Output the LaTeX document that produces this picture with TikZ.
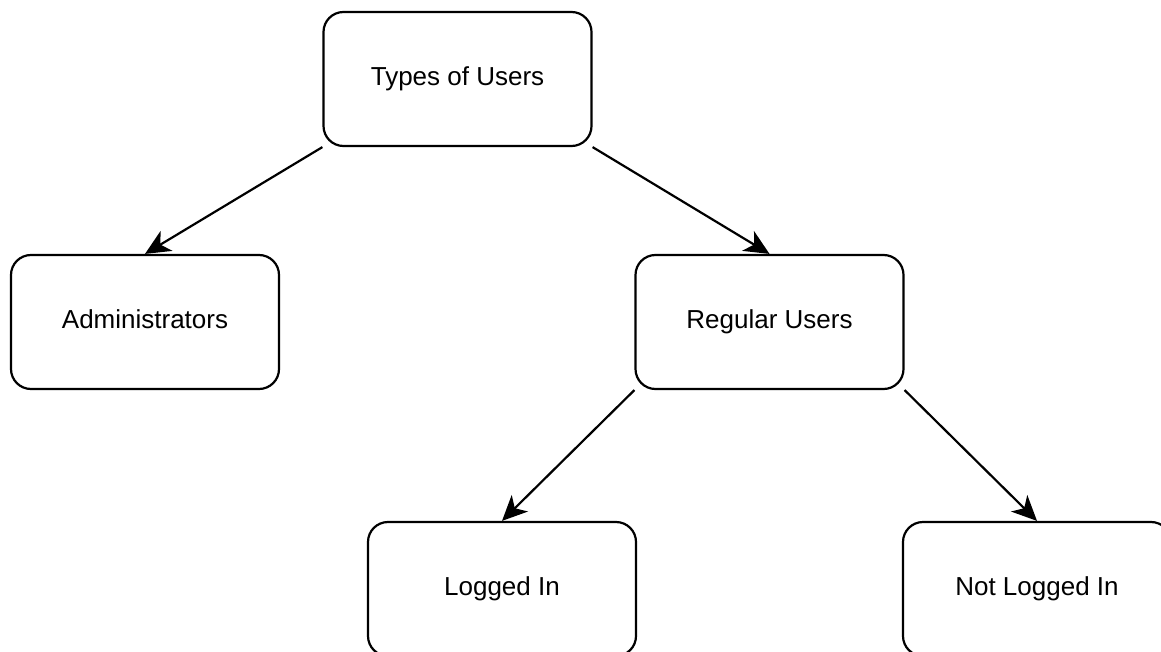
\documentclass[tikz,border=0pt]{standalone}
\usepackage{fontspec}
\setmainfont{Liberation Sans}
\usetikzlibrary{arrows.meta}
\begin{document}
\begin{tikzpicture}[x=1pt,y=-1pt,
  box/.style={draw=black, line width=2.2pt, rounded corners=20pt, fill=white,
    minimum width=268pt, minimum height=134pt, inner sep=0pt,
    text height=19pt, text depth=6pt,
    font=\fontsize{26}{30}\selectfont},
  link/.style={draw=black, line width=2.2pt,
    -{Stealth[length=25pt,width=23pt,inset=7pt]}}]
  \clip (0,0) rectangle (1161,652);
  \fill[white] (0,0) rectangle (1161,652);
  % user categories
  \node[box] (types)  at (457.5,79)  {Types of Users};
  \node[box] (admin)  at (145,322)   {Administrators};
  \node[box] (reg)    at (769.5,322) {Regular Users};
  \node[box] (logged) at (502,589)   {Logged In};
  \node[box] (notlog) at (1037,589)  {Not Logged In};
  % hierarchy links
  \draw[link] (types.south west) -- (admin.north);
  \draw[link] (types.south east) -- (reg.north);
  \draw[link] (reg.south west) -- (logged.north);
  \draw[link] (reg.south east) -- (notlog.north);
\end{tikzpicture}
\end{document}
